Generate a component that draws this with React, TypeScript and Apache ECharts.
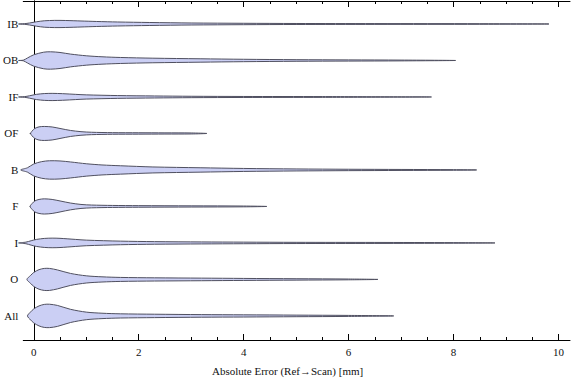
import React, { useEffect, useRef } from "react";
import * as echarts from "echarts";

// Categories, top to bottom
const categories = ["IB", "OB", "IF", "OF", "B", "F", "I", "O", "All"];

// Violin profiles: [absolute error (mm), relative density (half-width)]
const IB = [[-0.29, 0], [-0.18, 0.3], [-0.08, 1.0], [0.05, 2.2], [0.2, 3.2], [0.4, 3.6], [0.6, 3.5], [0.9, 3.0], [1.2, 2.5], [1.6, 2.0], [2.2, 1.5], [3.0, 1.0], [4, 0.7], [5, 0.5], [6.5, 0.4], [8.5, 0.3], [9.82, 0]];
const OB = [[-0.29, 0], [-0.2, 0.3], [-0.12, 2.5], [0, 5.7], [0.19, 8.3], [0.32, 8.7], [0.5, 8], [0.7, 6.4], [1.0, 4.7], [1.3, 3.7], [1.65, 3], [2.27, 2.3], [3.17, 1.7], [4, 1.2], [5, 0.8], [6, 0.6], [7, 0.4], [8.04, 0]];
const IF = [[-0.29, 0], [-0.18, 0.3], [-0.08, 1.2], [0.05, 2.6], [0.2, 3.4], [0.35, 3.6], [0.55, 3.3], [0.8, 2.6], [1.0, 2.1], [1.6, 1.4], [2.3, 1.0], [3, 0.7], [4, 0.5], [5.5, 0.4], [7.58, 0]];
const OF = [[-0.06, 0], [-0.03, 2.5], [0.02, 5], [0.1, 6.6], [0.2, 7], [0.35, 6.5], [0.5, 5], [0.7, 3], [0.9, 1.8], [1.1, 1.2], [1.5, 0.8], [2, 0.7], [2.5, 0.6], [3.0, 0.5], [3.3, 0]];
const B = [[-0.25, 0], [-0.12, 2.2], [0, 6], [0.15, 8.3], [0.3, 9.2], [0.5, 9], [0.7, 8], [1.0, 6.2], [1.3, 5], [1.65, 4.2], [2.27, 3], [3.17, 2.2], [4, 1.5], [5, 1], [6, 0.7], [7, 0.5], [8, 0.3], [8.44, 0]];
const F = [[-0.07, 0], [-0.03, 3], [0.02, 5.5], [0.1, 7], [0.2, 7.6], [0.35, 7], [0.5, 5.5], [0.7, 3.4], [0.9, 2], [1.1, 1.4], [1.5, 1.0], [2, 0.8], [3, 0.6], [4, 0.4], [4.44, 0]];
const I = [[-0.29, 0], [-0.15, 0.8], [-0.05, 2.2], [0.05, 3.5], [0.2, 4.5], [0.35, 4.8], [0.5, 4.6], [0.8, 3.5], [1.0, 2.8], [1.65, 1.8], [2.3, 1.3], [3.2, 1], [4, 0.8], [5, 0.6], [6.5, 0.5], [8, 0.3], [8.79, 0]];
const O = [[-0.13, 0], [-0.06, 4], [0, 7], [0.1, 9.8], [0.2, 11], [0.3, 11], [0.45, 9.5], [0.7, 6], [1.0, 3.6], [1.3, 2.6], [1.65, 2], [2.3, 1.6], [3.2, 1.3], [4, 1], [5, 0.7], [6, 0.4], [6.56, 0]];
const All = [[-0.12, 0], [-0.06, 4], [0, 7], [0.1, 10], [0.2, 11.5], [0.3, 11.7], [0.45, 10.5], [0.7, 6.6], [1.0, 3.8], [1.3, 2.7], [1.65, 2.1], [2.3, 1.7], [3.2, 1.3], [4, 1.1], [5, 0.8], [6, 0.5], [6.86, 0]];

const profiles = [IB, OB, IF, OF, B, F, I, O, All];

// Tick labels
const xMajorTicks = [0, 2, 4, 6, 8, 10];
const xMinorTicks = [0.5, 1, 1.5, 2.5, 3, 3.5, 4.5, 5, 5.5, 6.5, 7, 7.5, 8.5, 9, 9.5];
const yTicks = [1, 2, 3, 4, 5, 6, 7, 8, 9];

const DENSITY_SCALE = 1 / 36.5;
const FONT = "'Liberation Serif', 'Times New Roman', serif";
const X_MIN = -0.2;
const X_MAX = 10.22;
const Y_MIN = 0.37;
const Y_MAX = 9.66;

export default function App() {
  const ref = useRef<HTMLDivElement>(null);
  useEffect(() => {
    if (!ref.current) return;
    const chart = echarts.init(ref.current, undefined, { renderer: "svg" });
    const axisLine = { show: true, lineStyle: { color: "#000", width: 1 } };
    const xAx = (position: string, values: number[], len: number, labels: boolean, line: boolean) => ({
      type: "value",
      position,
      min: X_MIN,
      max: X_MAX,
      axisLine: line ? axisLine : { show: false },
      axisTick: { show: true, inside: true, length: len, customValues: values, lineStyle: { color: "#000", width: 1 } },
      axisLabel: labels
        ? { show: true, customValues: values, margin: 6, fontFamily: FONT, fontSize: 11, color: "#111" }
        : { show: false },
      splitLine: { show: false },
    });
    const yAx = (position: string, labels: boolean) => ({
      type: "value",
      position,
      inverse: true,
      min: Y_MIN,
      max: Y_MAX,
      axisLine,
      axisTick: { show: true, inside: true, length: 4, customValues: yTicks, lineStyle: { color: "#000", width: 1 } },
      axisLabel: labels
        ? {
            show: true,
            customValues: yTicks,
            margin: 5,
            fontFamily: FONT,
            fontSize: 11,
            color: "#111",
            formatter: (v: number) => categories[Math.round(v) - 1] ?? "",
          }
        : { show: false },
      splitLine: { show: false },
    });
    chart.setOption({
      animation: false,
      backgroundColor: "#fff",
      grid: { left: 20, right: 6, top: 1, bottom: 41, containLabel: false },
      xAxis: [
        xAx("bottom", xMajorTicks, 6, true, true),
        xAx("bottom", xMinorTicks, 3, false, false),
        xAx("top", xMajorTicks, 6, false, true),
        xAx("top", xMinorTicks, 3, false, false),
      ],
      yAxis: [yAx("left", true), yAx("right", false)],
      graphic: [
        {
          type: "text",
          left: 212,
          top: 365,
          style: {
            text: "Absolute Error (Ref\u2192Scan) [mm]",
            fontFamily: FONT,
            fontSize: 11,
            fill: "#111",
          },
        },
      ],
      series: [
        {
          type: "custom",
          coordinateSystem: "cartesian2d",
          xAxisIndex: 0,
          yAxisIndex: 0,
          clip: false,
          data: categories.map((_, i) => [i]),
          renderItem: (params: any, api: any) => {
            const idx = api.value(0);
            const prof = profiles[idx];
            const yc = idx + 1;
            const top = prof.map(([x, w]) => api.coord([x, yc - w * DENSITY_SCALE]));
            const bot = prof
              .slice(1, -1)
              .reverse()
              .map(([x, w]) => api.coord([x, yc + w * DENSITY_SCALE]));
            return {
              type: "polygon",
              shape: { points: top.concat(bot), smooth: 0.3 },
              style: { fill: "#cbcff4", stroke: "#505060", lineWidth: 1 },
            };
          },
        },
      ],
    });
    return () => chart.dispose();
  }, []);
  return (
    <div
      ref={ref}
      style={{ position: "fixed", left: 0, top: 0, width: 576, height: 381, background: "#fff" }}
    />
  );
}
